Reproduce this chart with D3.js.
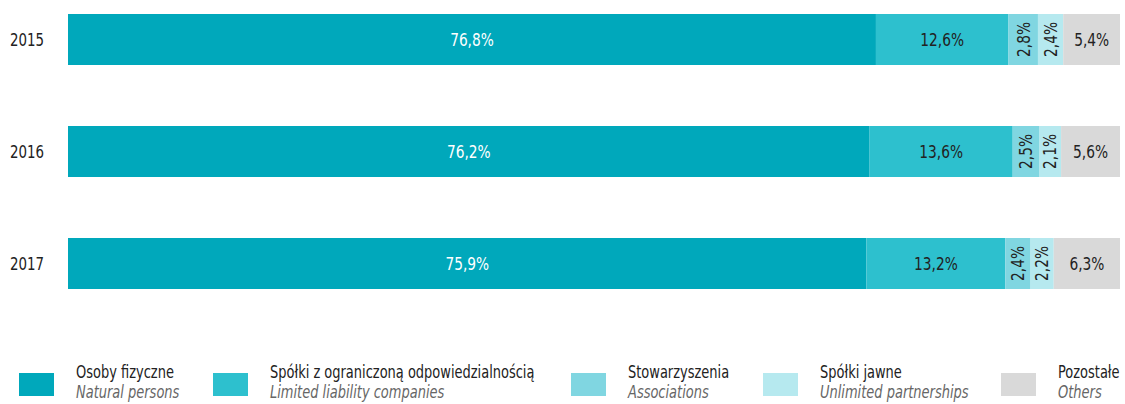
<!DOCTYPE html>
<html>
<head>
<meta charset="utf-8">
<script src="https://cdn.jsdelivr.net/npm/d3@7"></script>
<style>
  body { margin: 0; background: #fff; }
  svg text { font-family: "DejaVu Sans Condensed", "Liberation Sans Narrow", sans-serif; font-stretch: condensed; }
</style>
</head>
<body>
<div id="chart"></div>
<script>
// data
var years = ["2015", "2016", "2017"];
var seriesNames = ["Osoby fizyczne", "Spółki z ograniczoną odpowiedzialnością", "Stowarzyszenia", "Spółki jawne", "Pozostałe"];
var seriesNamesEn = ["Natural persons", "Limited liability companies", "Associations", "Unlimited partnerships", "Others"];
var osoby = [76.8, 76.2, 75.9];
var spolkiZoo = [12.6, 13.6, 13.2];
var stowarzyszenia = [2.8, 2.5, 2.4];
var spolkiJawne = [2.4, 2.1, 2.2];
var pozostale = [5.4, 5.6, 6.3];

var colors = ["#00a8bb", "#2dc0ce", "#80d6e1", "#b6e9ef", "#d9d9d9"];
var labelColors = ["#ffffff", "#222222", "#222222", "#222222", "#222222"];

var w = 1125, h = 404;
var squeeze = 0.85; // narrow the fallback font to look condensed

var svg = d3.select("#chart").append("svg")
    .attr("width", w)
    .attr("height", h);

// build rows for stacking
var rows = years.map(function(y, i) {
    return { year: y, s0: osoby[i], s1: spolkiZoo[i], s2: stowarzyszenia[i], s3: spolkiJawne[i], s4: pozostale[i] };
});
var keys = ["s0", "s1", "s2", "s3", "s4"];
var stacked = d3.stack().keys(keys)(rows);

var x = d3.scaleLinear().domain([0, 100]).range([68, 1120]);
var y = d3.scaleBand().domain(years).range([14, 289]).paddingInner(0.5446).paddingOuter(0);

// year labels
svg.selectAll("text.year")
    .data(years)
    .enter()
    .append("text")
    .attr("class", "year")
    .attr("transform", function(d) {
        return "translate(10," + (y(d) + y.bandwidth() / 2) + ") scale(" + squeeze + ",1)";
    })
    .attr("dy", "0.35em")
    .attr("font-size", 17.5)
    .attr("fill", "#222")
    .text(function(d) { return d; });

var fmt = function(v) { return v.toFixed(1).replace(".", ",") + "%"; };

var layers = svg.selectAll("g.layer")
    .data(stacked)
    .enter()
    .append("g")
    .attr("class", "layer");

layers.selectAll("rect")
    .data(function(d) { return d; })
    .enter()
    .append("rect")
    .attr("x", function(d) { return x(d[0]); })
    .attr("y", function(d) { return y(d.data.year); })
    .attr("width", function(d) { return x(d[1]) - x(d[0]); })
    .attr("height", y.bandwidth())
    .attr("fill", function(d) { return colors[keys.indexOf(this.parentNode.__data__.key)]; });

// value labels, narrow segments get vertical text
layers.each(function(layer, li) {
    d3.select(this).selectAll("text")
        .data(layer)
        .enter()
        .append("text")
        .attr("transform", function(d) {
            var cx = (x(d[0]) + x(d[1])) / 2;
            var cy = y(d.data.year) + y.bandwidth() / 2;
            var rot = (x(d[1]) - x(d[0])) < 40 ? " rotate(-90)" : "";
            return "translate(" + cx + "," + cy + ")" + rot + " scale(" + squeeze + ",1)";
        })
        .attr("text-anchor", "middle")
        .attr("dy", "0.35em")
        .attr("font-size", 18)
        .attr("fill", labelColors[li])
        .text(function(d) { return fmt(d[1] - d[0]); });
});

// legend
var legendX = [19, 213, 571, 763, 1001];
var legend = svg.selectAll("g.legend")
    .data(seriesNames)
    .enter()
    .append("g")
    .attr("class", "legend")
    .attr("transform", function(d, i) { return "translate(" + legendX[i] + ",373)"; });

legend.append("rect")
    .attr("width", 35)
    .attr("height", 23)
    .attr("fill", function(d, i) { return colors[i]; });

legend.append("text")
    .attr("transform", "translate(57,5) scale(" + squeeze + ",1)")
    .attr("font-size", 17)
    .attr("fill", "#222")
    .text(function(d) { return d; });

legend.append("text")
    .attr("transform", "translate(57,25) scale(" + squeeze + ",1)")
    .attr("font-size", 17)
    .attr("font-style", "italic")
    .attr("fill", "#666")
    .text(function(d, i) { return seriesNamesEn[i]; });
</script>
</body>
</html>
